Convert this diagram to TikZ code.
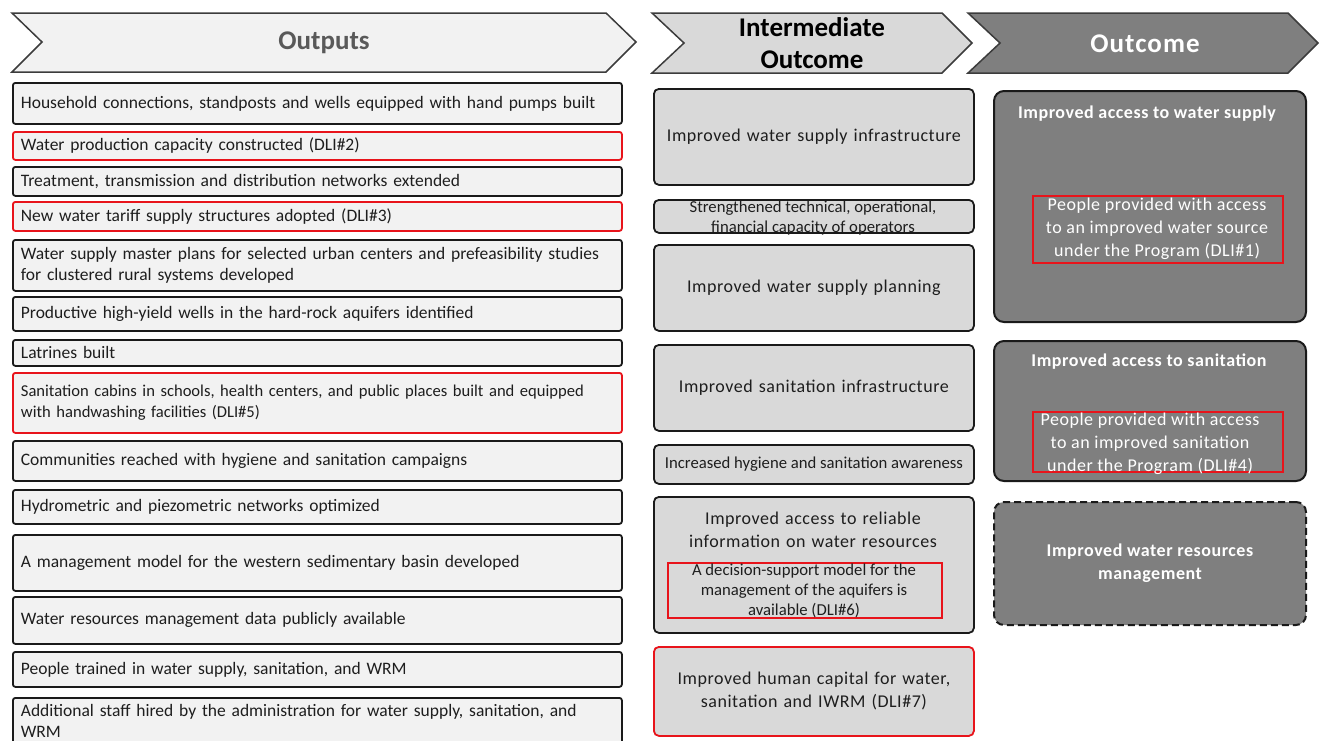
\documentclass[tikz,border=0pt]{standalone}
\usepackage{fontspec}
\setmainfont{Carlito}
\newfontfamily\lefttext{Carlito}
\newfontfamily\widetext[LetterSpace=3]{Carlito}
\definecolor{lightfill}{HTML}{F2F2F2}
\definecolor{midfill}{HTML}{D9D9D9}
\definecolor{darkfill}{HTML}{7F7F7F}
\definecolor{redline}{HTML}{E8141B}
\definecolor{txt}{HTML}{1E1E1E}
\definecolor{outtxt}{HTML}{595959}
\definecolor{boxline}{HTML}{1A1A1A}
\begin{document}
\begin{tikzpicture}[x=1pt,y=-1pt,
  lbox/.style={draw=boxline, line width=1.8pt, fill=lightfill, rounded corners=2.5pt, anchor=north west,
     minimum width=609pt, text width=593pt, inner xsep=8pt, inner ysep=0pt, align=left, text=txt,
     font=\lefttext\fontsize{17.5}{21}\selectfont},
  redb/.style={draw=redline},
  mbox/.style={draw=boxline, line width=1.8pt, fill=midfill, rounded corners=5pt, anchor=north west,
     minimum width=320pt, text width=312pt, inner xsep=4pt, inner ysep=0pt, align=center, text=txt,
     font=\widetext\fontsize{18}{23}\selectfont},
  rbox/.style={draw=boxline, line width=2pt, fill=darkfill, rounded corners=10pt, anchor=north west,
     minimum width=312pt},
  wtitle/.style={text=white, font=\widetext\bfseries\fontsize{18}{23}\selectfont, align=center},
  wtext/.style={text=white, align=center, font=\widetext\fontsize{18}{23}\selectfont},
  dli/.style={draw=redline, line width=1.8pt, anchor=north west, inner sep=0pt, align=center},
  chev/.style={draw=boxline!85, line width=1.5pt},
  smalltext/.style={font=\lefttext\fontsize{16.7}{20}\selectfont, text=txt, align=center},
  head/.style={font=\lefttext\bfseries\fontsize{27}{32}\selectfont, align=center}
]
\useasboundingbox (0,0) rectangle (1324,740);

% header chevrons
\draw[chev, fill=lightfill] (12,13) -- (606,13) -- (636,42) -- (606,72) -- (12,72) -- (42,42) -- cycle;
\node[head, text=outtxt] (hout) at (324,43) {Outputs};
\draw[chev, fill=midfill] (652,13) -- (942,13) -- (972,43) -- (942,73) -- (652,73) -- (684,43) -- cycle;
\node[head, text=black] (hint) at (812,43) {Intermediate\\Outcome};
\draw[chev, fill=darkfill] (968,13) -- (1288,13) -- (1318,43) -- (1288,73) -- (968,73) -- (1000,43) -- cycle;
\node[head, text=white] (hoc) at (1145,44) {\addfontfeatures{LetterSpace=4}Outcome};

% outputs column
\node[lbox, minimum height=41pt] (o1) at (12,82) {Household connections, standposts and wells equipped with hand pumps built};
\node[lbox, redb, minimum height=28pt] (o2) at (12,131) {Water production capacity constructed (DLI\#2)};
\node[lbox, minimum height=29pt] (o3) at (12,166) {Treatment, transmission and distribution networks extended};
\node[lbox, redb, minimum height=29pt] (o4) at (12,201) {New water tariff supply structures adopted (DLI\#3)};
\node[lbox, minimum height=51pt] (o5) at (12,239) {Water supply master plans for selected urban centers and prefeasibility studies\\for clustered rural systems developed};
\node[lbox, minimum height=34pt] (o6) at (12,296) {Productive high-yield wells in the hard-rock aquifers identified};
\node[lbox, minimum height=26pt] (o7) at (12,339) {Latrines built};
\node[lbox, redb, minimum height=60pt, font=\lefttext\fontsize{16.6}{21}\selectfont] (o8) at (12,372) {\mbox{Sanitation cabins in schools, health centers, and public places built and equipped}\\with handwashing facilities (DLI\#5)};
\node[lbox, minimum height=40pt] (o9) at (12,440) {Communities reached with hygiene and sanitation campaigns};
\node[lbox, minimum height=34pt] (o10) at (12,489) {Hydrometric and piezometric networks optimized};
\node[lbox, minimum height=56pt] (o11) at (12,534) {A management model for the western sedimentary basin developed};
\node[lbox, minimum height=47pt] (o12) at (12,596) {Water resources management data publicly available};
\node[lbox, minimum height=35pt] (o13) at (12,651) {People trained in water supply, sanitation, and WRM};
\node[lbox, minimum height=46pt] (o14) at (12,697) {Additional staff hired by the administration for water supply, sanitation, and\\WRM};

% intermediate outcome column
\node[mbox, minimum height=96pt] (i1) at (653,88) {Improved water supply infrastructure};
\node[mbox, minimum height=33pt] (i2) at (653,199) {};
\node[smalltext] (i2t) at (813,218) {Strengthened technical, operational,\\financial capacity of operators};
\node[mbox, minimum height=86pt] (i3) at (653,244) {Improved water supply planning};
\node[mbox, minimum height=86pt] (i4) at (653,344) {Improved sanitation infrastructure};
\node[mbox, minimum height=39pt] (i5) at (653,444) {};
\node[smalltext] (i5t) at (i5.center) {Increased hygiene and sanitation awareness};
\node[mbox, minimum height=136pt] (i6) at (653,496) {};
\node[mbox, draw=none, fill=none, anchor=center] (i6t) at (813,530) {Improved access to reliable\\information on water resources};
\node[dli, minimum width=274pt, minimum height=55pt] (i6d) at (667,562) {};
\node[smalltext] (i6dt) at (804,590.5) {A decision-support model for the\\management of the aquifers is\\available (DLI\#6)};
\node[mbox, redb, minimum height=89pt] (i7) at (653,646) {Improved human capital for water,\\sanitation and IWRM (DLI\#7)};

% outcome column
\node[rbox, minimum height=231pt] (c1) at (993,90) {};
\node[wtitle] (c1t) at (1147,114) {Improved access to water supply};
\node[dli, minimum width=250pt, minimum height=67pt] (c1d) at (1032,195) {};
\node[wtext] (c1dt) at (1157,229) {People provided with access\\to an improved water source\\under the Program (DLI\#1)};

\node[rbox, minimum height=140pt] (c2) at (993,340) {};
\node[wtitle] (c2t) at (1149,362) {Improved access to sanitation};
\node[dli, minimum width=250pt, minimum height=60pt] (c2d) at (1032,411) {};
\node[wtext] (c2dt) at (1150,444) {People provided with access\\to an improved sanitation\\under the Program (DLI\#4)};

\node[rbox, dashed, dash pattern=on 7pt off 4pt, minimum height=123pt] (c3) at (993,501) {};
\node[wtitle] (c3t) at (c3.center) {Improved water resources\\management};
\end{tikzpicture}
\end{document}
